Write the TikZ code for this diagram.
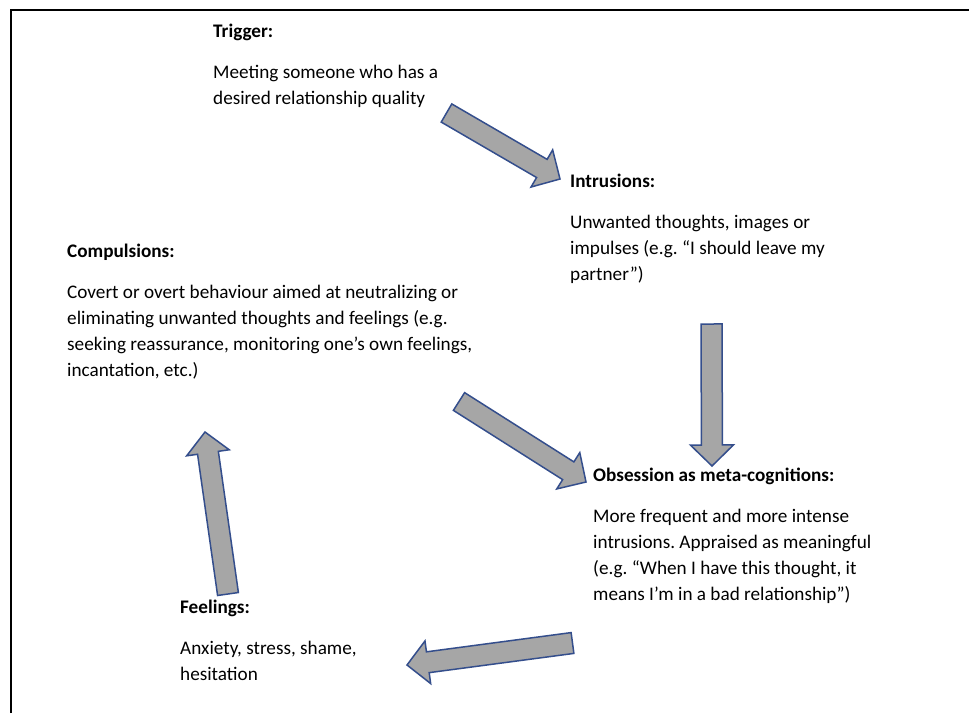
\documentclass[tikz,border=0pt]{standalone}
\usepackage{fontspec}
\setmainfont{Carlito}
\usetikzlibrary{calc}
\frenchspacing
\definecolor{arrowfill}{RGB}{166,166,166}
\definecolor{arrowedge}{RGB}{52,78,140}
\tikzset{
  txt/.style={anchor=base west, inner sep=0pt, font=\fontsize{19.2}{26}\selectfont\frenchspacing},
  hd/.style={anchor=base west, inner sep=0pt, font=\fontsize{19.2}{26}\selectfont\bfseries},
  blockar/.style={fill=arrowfill, draw=arrowedge, line width=1.5pt, line join=miter},
  frame/.style={line width=2.2pt, black}
}
\newcommand\blockarrow[2]{%
  \coordinate (#1h) at ($(#2)!21pt!(#1)$);
  \draw[blockar] ($(#1)!10.5pt!90:(#2)$) -- ($(#1h)!10.5pt!90:(#2)$) -- ($(#1h)!21.5pt!90:(#2)$) -- (#2) -- ($(#1h)!21.5pt!-90:(#2)$) -- ($(#1h)!10.5pt!-90:(#2)$) -- ($(#1)!10.5pt!-90:(#2)$) -- cycle;}
\begin{document}
\begin{tikzpicture}[x=1pt,y=-1pt]
\useasboundingbox (0,0) rectangle (969,713);
\fill[white] (0,0) rectangle (969,713);
% frame (top and left edges)
\coordinate (fbl) at (11.2,713);
\coordinate (ftl) at (11.2,10.3);
\coordinate (ftr) at (969,10.3);
\draw[frame] (fbl) -- (ftl) -- (ftr);
% Trigger
\node[hd]  (trigh) at (213,37) {Trigger:};
\node[txt] (trig1) at (213,78) {Meeting someone who has a};
\node[txt] (trig2) at (213,104) {desired relationship quality};
% Intrusions
\node[hd]  (intrh) at (570,187) {Intrusions:};
\node[txt] (intr1) at (570,228) {Unwanted thoughts, images or};
\node[txt] (intr2) at (570,254) {impulses (e.g. “I should leave my};
\node[txt] (intr3) at (570,280) {partner”)};
% Compulsions
\node[hd]  (comph) at (67,257) {Compulsions:};
\node[txt] (comp1) at (67,298) {Covert or overt behaviour aimed at neutralizing or};
\node[txt] (comp2) at (67,324) {eliminating unwanted thoughts and feelings (e.g.};
\node[txt] (comp3) at (67,350) {seeking reassurance, monitoring one’s own feelings,};
\node[txt] (comp4) at (67,376) {incantation, etc.)};
% Obsession
\node[hd]  (obsh) at (593,481) {Obsession as meta-cognitions:};
\node[txt] (obs1) at (593,522) {More frequent and more intense};
\node[txt] (obs2) at (593,548) {intrusions. Appraised as meaningful};
\node[txt] (obs3) at (593,574) {(e.g. “When I have this thought, it};
\node[txt] (obs4) at (593,600) {means I’m in a bad relationship”)};
% Feelings
\node[hd]  (feelh) at (180,613) {Feelings:};
\node[txt] (feel1) at (180,654) {Anxiety, stress, shame,};
\node[txt] (feel2) at (180,680) {hesitation};
% arrow end points
\coordinate (aas) at (446.5,113);  \coordinate (aae) at (560,179);
\coordinate (abs) at (711.5,324);  \coordinate (abe) at (712,466);
\coordinate (acs) at (459,401.5);  \coordinate (ace) at (586,482);
\coordinate (ads) at (572.5,643);  \coordinate (ade) at (407,665);
\coordinate (aes) at (228,594);    \coordinate (aee) at (205,432);
\blockarrow{aas}{aae}
\blockarrow{abs}{abe}
\blockarrow{acs}{ace}
\blockarrow{ads}{ade}
\blockarrow{aes}{aee}
\end{tikzpicture}
\end{document}
